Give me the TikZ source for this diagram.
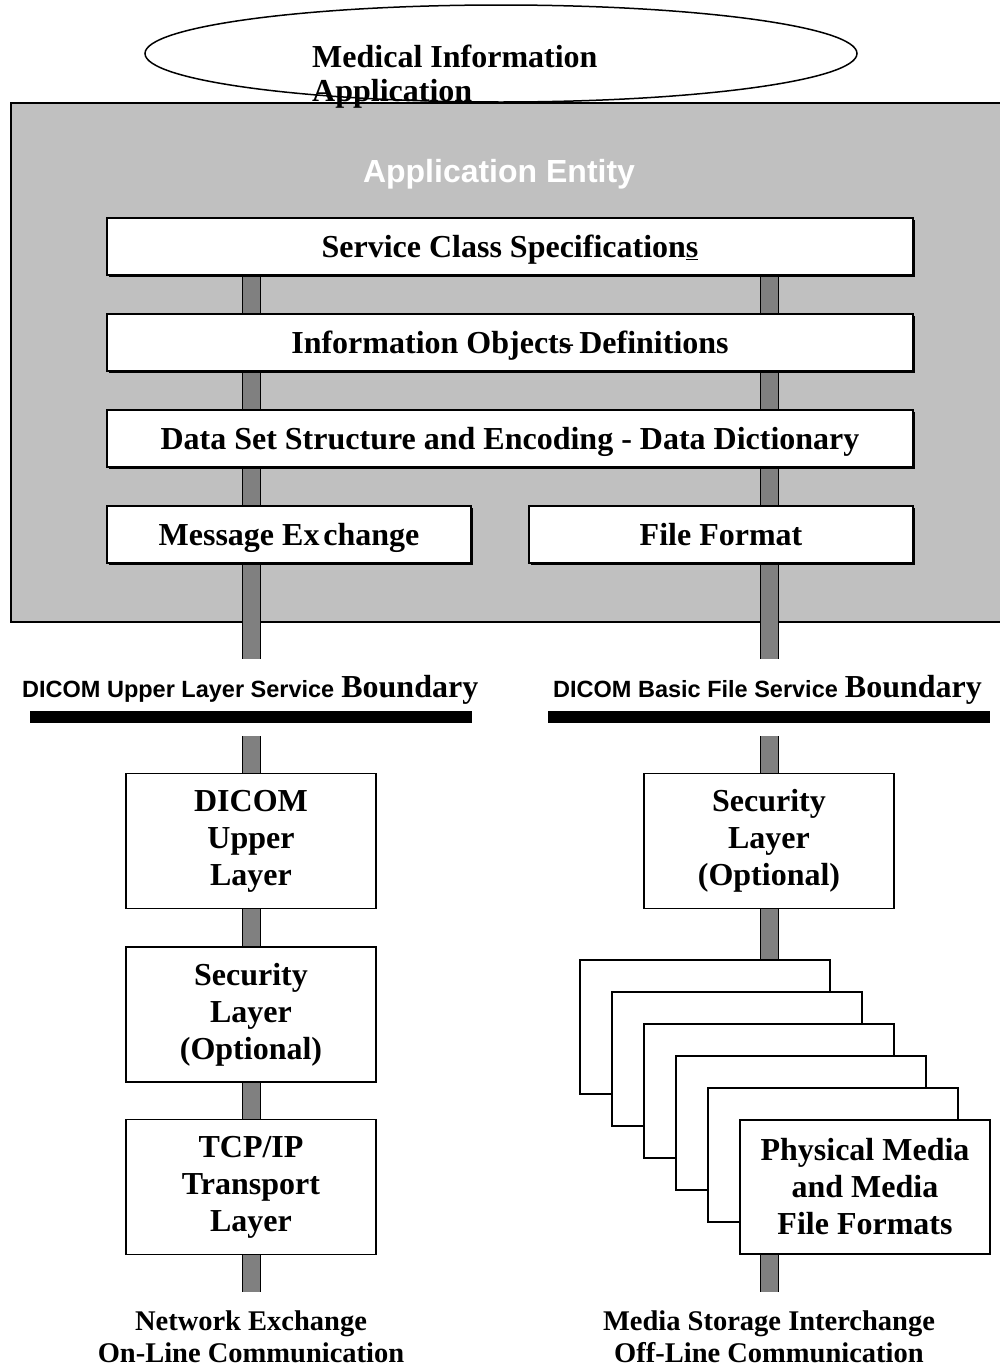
\documentclass[tikz,border=0pt]{standalone}
\usepackage{fontspec}
\setmainfont{Liberation Serif}
\newfontfamily\sansb{Liberation Sans}
\usetikzlibrary{shapes.geometric,shadows}
\definecolor{aegray}{HTML}{C0C0C0}
\definecolor{postgray}{HTML}{808080}
\pgfdeclarelayer{bg}
\pgfsetlayers{bg,main}
\begin{document}
\begin{tikzpicture}[x=1pt,y=-1pt,
  box/.style={draw=black,line width=1.5pt,fill=white,inner sep=0pt,align=center,
    font=\bfseries\fontsize{32}{37}\selectfont},
  shbox/.style={box,text height=21pt,text depth=0pt,
    drop shadow={shadow xshift=2pt,shadow yshift=-2pt,fill=black,opacity=1}},
  wide/.style={minimum width=806pt,minimum height=57pt},
  lower/.style={minimum width=250pt,minimum height=135pt},
  media/.style={box,minimum width=250pt,minimum height=134pt},
  post/.style={draw=black,line width=1pt,double=postgray,double distance=17pt},
  bar/.style={fill=black,inner sep=0pt,minimum height=12pt},
  serifb/.style={inner sep=0pt,font=\bfseries\fontsize{32}{35}\selectfont},
  bottomtxt/.style={inner sep=0pt,align=center,font=\bfseries\fontsize{28.5}{32}\selectfont},
]
\useasboundingbox (0,0) rectangle (1000,1368);

\node[anchor=base,inner sep=0pt,text=white,font=\sansb\bfseries\fontsize{32}{36}\selectfont]
  (aetitle) at (499,182) {Application Entity};

% Ellipse
\node[draw=black,line width=1.5pt,ellipse,minimum width=712pt,minimum height=97pt,inner sep=0pt]
  (mia) at (501,53.5) {};
\node[serifb,anchor=base west] (miaA) at (312,67) {Medical Information};
\node[serifb,anchor=base west] (miaB) at (312,101) {Application};

% Upper boxes
\node[shbox,wide] (svc) at (510,246.5) {Service Class Specification\underline{s}};
\node[shbox,wide] (iod) at (510,342.5) {Information Objects Definitions};
\draw[line width=1.5pt] (560,346) -- (573,345);
\node[shbox,wide] (dss) at (510,438.5) {Data Set Structure and Encoding - Data Dictionary};
\node[shbox,minimum width=364pt,minimum height=57pt] (msg) at (289,534.5) {Message Ex\hspace{0.12em}change};
\node[shbox,minimum width=384pt,minimum height=57pt] (ff) at (721,534.5) {File Format};

% Boundaries
\node[anchor=base west,inner sep=0pt] (bl) at (22,697)
  {{\sansb\bfseries\fontsize{23.5}{28}\selectfont DICOM Upper Layer Service}\hspace{7pt}{\bfseries\fontsize{32}{36}\selectfont Boundary}};
\node[anchor=base west,inner sep=0pt] (br) at (553,697)
  {{\sansb\bfseries\fontsize{23.5}{28}\selectfont DICOM Basic File Service}\hspace{7pt}{\bfseries\fontsize{32}{36}\selectfont Boundary}};
\node[bar,minimum width=442pt] (barL) at (251,717) {};
\node[bar,minimum width=442pt] (barR) at (769,717) {};

% Lower left
\node[box,lower] (dul) at (251,841) {DICOM\\Upper\\Layer};
\node[box,lower] (sl1) at (251,1014.5) {Security\\Layer\\(Optional)};
\node[box,lower] (tcp) at (251,1187) {TCP/IP\\Transport\\Layer};

% Lower right
\node[box,lower] (sl2) at (769,841) {Security\\Layer\\(Optional)};
\node[media] (m1) at (705,1027) {};
\node[media] (m2) at (737,1059) {};
\node[media] (m3) at (769,1091) {};
\node[media] (m4) at (801,1123) {};
\node[media] (m5) at (833,1155) {};
\node[media] (m6) at (865,1187) {Physical Media\\and Media\\File Formats};

% Bottom captions
\node[bottomtxt] (capL) at (251,1337) {Network Exchange\\On-Line Communication};
\node[bottomtxt] (capR) at (769,1337) {Media Storage Interchange\\Off-Line Communication};

% Posts
\coordinate (LU) at (251.5,659);
\coordinate (RU) at (769.5,659);
\coordinate (LL) at (251.5,736);
\coordinate (RL) at (769.5,736);
\coordinate (LE) at (251.5,1292);
\coordinate (RE) at (769.5,1292);
\begin{pgfonlayer}{bg}
\fill[white] (0,0) rectangle (1000,1368);
\node[draw=black,line width=1.5pt,fill=aegray,minimum width=1000pt,minimum height=519pt,
  inner sep=0pt,anchor=north west] (ae) at (10,102) {};
\draw[post] (svc.south -| LU) -- (LU);
\draw[post] (svc.south -| RU) -- (RU);
\draw[post] (LL) -- (LE);
\draw[post] (RL) -- (RE);
\end{pgfonlayer}
\end{tikzpicture}
\end{document}
